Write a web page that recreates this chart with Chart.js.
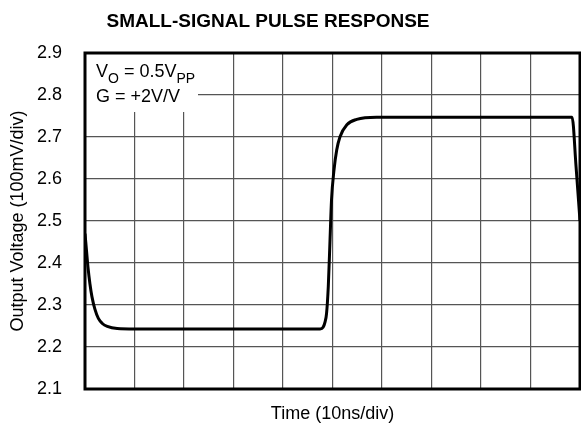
<!DOCTYPE html>
<html>
<head>
<meta charset="utf-8">
<script src="https://cdn.jsdelivr.net/npm/chart.js@4.4.1/dist/chart.umd.min.js"></script>
<style>
  html, body { margin: 0; padding: 0; background: #fff; }
</style>
</head>
<body>
<canvas id="myChart" width="581" height="426"></canvas>
<script>
// time axis in ns, output in volts
const tempoNs = [0, 0.3, 0.6, 1.0, 1.4, 2.0, 2.7, 3.5, 4.5, 6.5, 10, 20, 30, 40,
                 47.5, 48.1, 48.5, 48.8, 49.15, 49.5, 49.8, 50.3, 50.85, 51.5, 52.9, 54.9, 58.9,
                 70, 80, 90, 98.4, 99.2, 100];
const saidaV = [2.47, 2.43, 2.39, 2.35, 2.32, 2.29, 2.268, 2.256, 2.249, 2.244, 2.243, 2.243, 2.243, 2.243,
                2.243, 2.247, 2.26, 2.28, 2.344, 2.455, 2.55, 2.621, 2.669, 2.70, 2.729, 2.742, 2.747,
                2.747, 2.747, 2.747, 2.747, 2.63, 2.50];

// y grid / labels
const valoresY = [2.1, 2.2, 2.3, 2.4, 2.5, 2.6, 2.7, 2.8, 2.9];
const rotulosY = ['2.1', '2.2', '2.3', '2.4', '2.5', '2.6', '2.7', '2.8', '2.9'];

const titulo = 'SMALL-SIGNAL PULSE RESPONSE';
const fonte = '"Liberation Sans", Arial, Helvetica, sans-serif';

// box with test conditions, outer frame and title
const extrasPlugin = {
    id: 'extras',
    beforeDatasetsDraw(chart) {
        const ctx = chart.ctx;
        const a = chart.chartArea;
        ctx.save();
        ctx.fillStyle = '#fff';
        ctx.fillRect(a.left, a.top, 113, 59);

        ctx.fillStyle = '#000';
        ctx.textBaseline = 'alphabetic';
        ctx.textAlign = 'left';
        let x = a.left + 11;
        const y1 = a.top + 24;
        const sub = 6;

        // V_O = 0.5V_PP
        ctx.font = '18px ' + fonte;
        ctx.fillText('V', x, y1);
        x += ctx.measureText('V').width;
        ctx.font = '14px ' + fonte;
        ctx.fillText('O', x, y1 + sub);
        x += ctx.measureText('O').width;
        ctx.font = '18px ' + fonte;
        ctx.fillText(' = 0.5V', x, y1);
        x += ctx.measureText(' = 0.5V').width;
        ctx.font = '14px ' + fonte;
        ctx.fillText('PP', x, y1 + sub);

        ctx.font = '18px ' + fonte;
        ctx.fillText('G = +2V/V', a.left + 11, a.top + 49);
        ctx.restore();
    },
    afterDatasetsDraw(chart) {
        const ctx = chart.ctx;
        const a = chart.chartArea;
        ctx.save();
        ctx.strokeStyle = '#000';
        ctx.lineWidth = 3;
        ctx.strokeRect(a.left, a.top, a.right - a.left, a.bottom - a.top);
        ctx.restore();
    },
    afterDraw(chart) {
        const ctx = chart.ctx;
        ctx.save();
        ctx.fillStyle = '#000';
        ctx.font = 'bold 19px ' + fonte;
        ctx.textAlign = 'center';
        ctx.textBaseline = 'alphabetic';
        ctx.fillText(titulo, 268, 27);
        ctx.restore();
    }
};

const data = {
    datasets: [{
        data: tempoNs.map((t, i) => ({ x: t, y: saidaV[i] })),
        borderColor: '#000',
        borderWidth: 3,
        pointRadius: 0,
        fill: false,
        cubicInterpolationMode: 'monotone'
    }]
};

const config = {
    type: 'line',
    data: data,
    options: {
        responsive: false,
        animation: false,
        devicePixelRatio: 1,
        layout: { padding: { top: 53, right: 1, left: 0, bottom: 0 } },
        plugins: {
            legend: { display: false },
            tooltip: { enabled: false }
        },
        scales: {
            x: {
                type: 'linear',
                min: 0,
                max: 100,
                ticks: { display: false, stepSize: 10 },
                grid: { color: '#555', lineWidth: 1.2, drawTicks: false },
                border: { display: false },
                title: {
                    display: true,
                    text: 'Time (10ns/div)',
                    color: '#000',
                    font: { family: fonte, size: 18 },
                    padding: { top: 0, bottom: 1 }
                },
                afterFit: (scale) => { scale.height = 37; }
            },
            y: {
                type: 'linear',
                min: 2.1,
                max: 2.9,
                afterBuildTicks: (scale) => {
                    scale.ticks = valoresY.map(v => ({ value: v }));
                },
                ticks: {
                    color: '#000',
                    font: { family: fonte, size: 18 },
                    padding: 23,
                    callback: (value, index) => rotulosY[index]
                },
                grid: { color: '#555', lineWidth: 1.2, drawTicks: false },
                border: { display: false },
                title: {
                    display: true,
                    text: 'Output Voltage (100mV/div)',
                    color: '#000',
                    font: { family: fonte, size: 18 },
                    padding: { top: 7, bottom: 0 }
                },
                afterFit: (scale) => { scale.width = 85; }
            }
        }
    },
    plugins: [extrasPlugin]
};

const myChart = new Chart(document.getElementById('myChart'), config);
</script>
</body>
</html>
